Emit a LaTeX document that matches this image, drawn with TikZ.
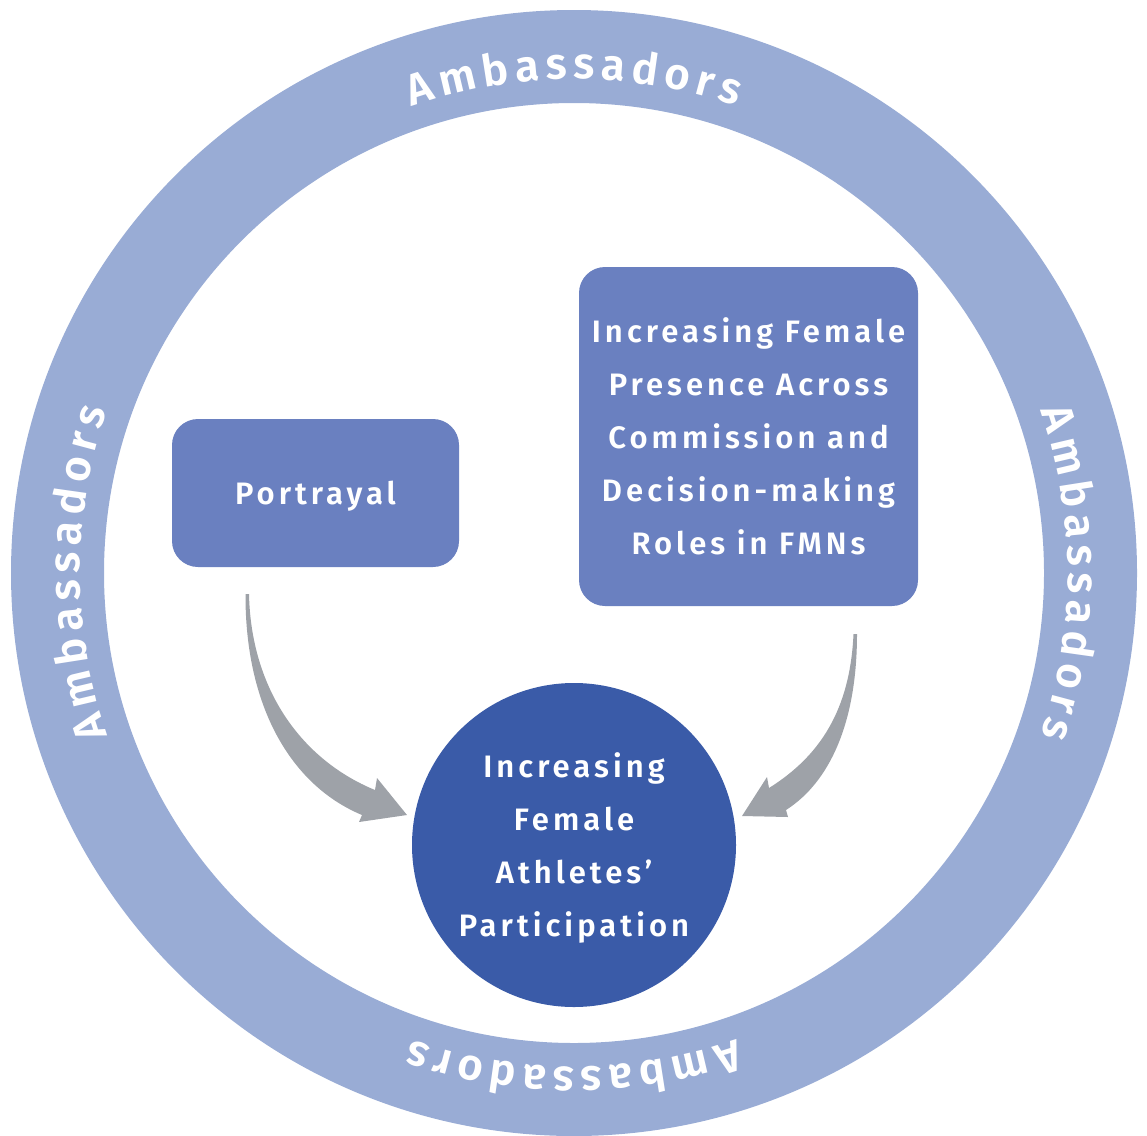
\documentclass[tikz,border=0pt]{standalone}
\usepackage{fontspec}
\setmainfont{Fira Sans}
\newfontfamily\lblfont[LetterSpace=13]{Fira Sans SemiBold}
\newfontfamily\ringfont{Fira Sans SemiBold}
\definecolor{ringblue}{HTML}{99ACD5}
\definecolor{boxblue}{HTML}{6A80C0}
\definecolor{circblue}{HTML}{3A5BA8}
\definecolor{arrowgray}{HTML}{9EA2A8}
\tikzset{
  boxnode/.style={fill=boxblue, rounded corners=26pt, text=white, align=center, inner sep=0pt,
     font=\lblfont\fontsize{31}{53}\selectfont},
  targetnode/.style={circle, fill=circblue, text=white, align=center, inner sep=0pt,
     minimum size=324pt, font=\lblfont\fontsize{31}{53}\selectfont},
  bigarrow/.style={fill=arrowgray},
  ringletter/.style={text=white, inner sep=0pt, anchor=base,
     font=\ringfont\fontsize{44}{50}\selectfont}
}
\newcommand\nodepth[1]{\raisebox{0pt}[\height][0pt]{#1}}
\newdimen\ringtot
\newdimen\ringpos
\def\ringgap{6}
\def\ringrad{494}
\newcommand\ringword[1]{%
  \begingroup
  \ringfont\fontsize{44}{50}\selectfont
  \global\ringtot=0pt
  \foreach \ltr in {A,m,b,a,s,s,a,d,o,r,s}{%
    \pgfmathwidth{"\ltr"}%
    \global\advance\ringtot by \pgfmathresult pt
    \global\advance\ringtot by \ringgap pt
  }%
  \global\advance\ringtot by -\ringgap pt
  \global\ringpos=0pt
  \foreach \ltr [count=\k] in {A,m,b,a,s,s,a,d,o,r,s}{%
    \pgfmathwidth{"\ltr"}%
    \let\lw\pgfmathresult
    \pgfmathsetmacro\ang{#1 + (0.5*\ringtot - \ringpos - 0.5*\lw)/\ringrad*57.29578}%
    \node[ringletter, rotate=\ang-90] (ring#1l\k) at (\ang:\ringrad) {\ltr};
    \global\advance\ringpos by \lw pt
    \global\advance\ringpos by \ringgap pt
  }%
  \endgroup
}
\begin{document}
\begin{tikzpicture}[x=1pt,y=-1pt]
\useasboundingbox (0,0) rectangle (1147,1135);
\coordinate (O) at (574,573);
% ring
\fill[ringblue, even odd rule] (O) circle[radius=563] (O) circle[radius=470];
% ring labels (visual angles, read clockwise, letter tops outward)
\begin{scope}[shift={(O)}, y=1pt]
  \ringword{90}
  \ringword{0}
  \ringword{-90}
  \ringword{180}
\end{scope}
% boxes
\node[boxnode, minimum width=287pt, minimum height=148pt] (portrayal) at (315.5,493) {\nodepth{Portrayal}};
\node[boxnode, minimum width=339pt, minimum height=339pt] (presence) at (748.5,436.5)
  {Increasing Female\\Presence Across\\Commission and\\Decision-making\\Roles in FMNs};
\node[targetnode] (target) at (574,845) {Increasing\\Female\\Athletes’\\\nodepth{Participation}};
% arrows
\coordinate (ltail) at (247,594);
\coordinate (ltip) at (407,815);
\fill[bigarrow] (245.5,594) .. controls (245,705) and (290,785) .. (362,815)
   -- (359,822) -- (ltip) -- (377,778) -- (375,790)
   .. controls (302,760) and (251,690) .. (249,594) -- cycle;
\coordinate (rtail) at (855,634);
\coordinate (rtip) at (742,816);
\fill[bigarrow] (857,634) .. controls (857,722) and (830,782) .. (786,810)
   -- (788,817) -- (rtip) -- (767,777) -- (769,788)
   .. controls (820,756) and (850,710) .. (853.5,634) -- cycle;
\end{tikzpicture}
\end{document}
